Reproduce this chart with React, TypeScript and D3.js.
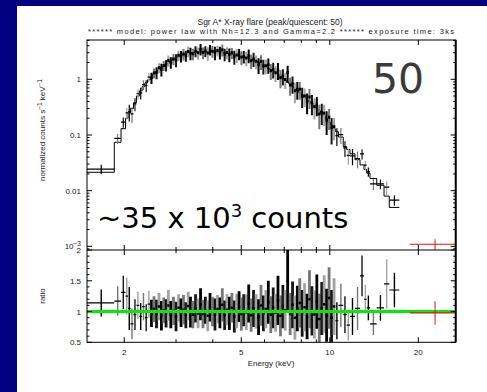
import React from "react";
import * as d3 from "d3";

// ---- data ----
const binEdges = [
  1.49, 1.85, 1.95, 2.02,
  2.06, 2.10, 2.15, 2.20, 2.25, 2.30, 2.35, 2.40, 2.45, 2.50,
  2.55, 2.60, 2.65, 2.70, 2.75, 2.80, 2.85, 2.91, 2.97, 3.03,
  3.09, 3.15, 3.21, 3.27, 3.33, 3.39, 3.46, 3.53, 3.60, 3.67,
  3.74, 3.81, 3.88, 3.95, 4.03, 4.11, 4.19, 4.27, 4.35, 4.43,
  4.51, 4.60, 4.69, 4.78, 4.87, 4.96, 5.05, 5.15, 5.25, 5.35,
  5.45, 5.56, 5.67, 5.78, 5.89, 6.00, 6.12, 6.24, 6.36, 6.48,
  6.60, 6.73, 6.86, 6.99, 7.12, 7.26, 7.40, 7.54, 7.68, 7.83,
  7.98, 8.13, 8.29, 8.45, 8.61, 8.78, 8.95, 9.12, 9.30, 9.48,
  9.66, 9.85, 10.04, 10.24, 10.44,
  10.70, 11.11, 11.41, 11.71, 12.18, 12.67, 13.07, 13.35, 13.70, 14.44, 15.29, 15.93, 17.24,
];

const modelCounts = [
  0.0214, 0.074, 0.13,
  0.20, 0.25, 0.30, 0.38, 0.50, 0.62, 0.74, 0.86, 0.98, 1.10,
  1.25, 1.38, 1.50, 1.62, 1.74, 1.86, 1.98, 2.13, 2.30, 2.42,
  2.54, 2.66, 2.76, 2.83, 2.90, 2.96, 3.02, 3.05, 3.08, 3.11,
  3.14, 3.16, 3.18, 3.19, 3.20, 3.19, 3.16, 3.12, 3.07, 3.01,
  2.94, 2.88, 2.82, 2.76, 2.70, 2.64, 2.59, 2.53, 2.45, 2.37,
  2.29, 2.21, 2.10, 2.00, 1.90, 1.79, 1.68, 1.58, 1.50, 1.42,
  1.34, 1.24, 1.15, 1.06, 0.97, 0.88, 0.82, 0.75, 0.69, 0.63,
  0.58, 0.52, 0.47, 0.43, 0.40, 0.37, 0.34, 0.30, 0.27, 0.245,
  0.22, 0.195, 0.170, 0.150, 0.130,
  0.115, 0.092, 0.062, 0.055, 0.046, 0.036, 0.029, 0.024, 0.0206, 0.0165, 0.0125, 0.0080, 0.0050,
];

const ratioValues = [
  1.14, 1.17, 1.31,
  1.25, 1.05, 0.80, 0.95, 1.10, 0.92, 1.08, 0.90, 1.12, 0.97,
  1.04, 0.96, 1.08, 0.93, 1.02, 0.97, 1.10, 0.95, 1.01, 0.92,
  1.06, 0.98, 1.03, 0.94, 1.09, 0.99, 0.95, 1.05, 0.97, 1.12,
  0.96, 1.02, 0.93, 1.07, 1.00, 0.95, 1.04, 0.98, 1.11, 0.94,
  1.03, 0.97, 1.06, 0.92, 1.01, 1.08, 0.96, 1.02, 0.99, 1.13,
  0.94, 1.05, 1.00, 0.91, 1.10, 0.97, 1.04, 1.15, 0.95, 1.06,
  0.98, 1.18, 0.93, 1.08, 1.02, 1.50, 0.96, 1.11, 0.90, 1.05,
  1.14, 0.97, 1.07, 0.92, 1.20, 1.01, 0.95, 1.16, 0.88, 1.05,
  1.12, 0.94, 1.22, 0.90, 1.08,
  0.85, 1.10, 0.95, 0.78, 0.92, 1.05, 1.58, 1.20, 1.06, 0.80, 1.06, 1.45, 1.35,
];

const ratioErrors = [
  0.22, 0.24, 0.27,
  0.30, 0.35, 0.25, 0.25, 0.22, 0.22, 0.22, 0.22, 0.22, 0.22,
  0.21, 0.23, 0.22, 0.24, 0.21, 0.23, 0.25, 0.22, 0.23, 0.24,
  0.22, 0.23, 0.24, 0.21, 0.23, 0.25, 0.22, 0.23, 0.24, 0.26,
  0.23, 0.22, 0.25, 0.23, 0.24, 0.26, 0.23, 0.25, 0.27, 0.24,
  0.25, 0.27, 0.24, 0.26, 0.28, 0.25, 0.27, 0.26, 0.29, 0.31,
  0.27, 0.30, 0.28, 0.29, 0.33, 0.29, 0.31, 0.35, 0.30, 0.33,
  0.31, 0.40, 0.33, 0.35, 0.33, 0.50, 0.34, 0.38, 0.36, 0.37,
  0.40, 0.38, 0.39, 0.37, 0.47, 0.40, 0.39, 0.44, 0.41, 0.43,
  0.47, 0.43, 0.50, 0.45, 0.46,
  0.30, 0.35, 0.30, 0.25, 0.30, 0.35, 0.33, 0.23, 0.20, 0.18, 0.21, 0.40, 0.28,
];

const redEdges = [18.7, 26.8];
const redCenter = [22.8];
const redCounts = [0.00109];
const redCountErr = [0.00025];
const redRatio = [0.977];
const redRatioErr = [0.19];

const xMajorTicks = [2, 5, 10, 20];
const xTickLabels = ["2", "5", "10", "20"];
const xMinorTicks = [3, 4, 6, 7, 8, 9];
const yUpperMajor = [0.001, 0.01, 0.1, 1];
const yUpperLabels = ["10", "0.01", "0.1", "1"];
const yLowerMajor = [0.5, 1, 1.5, 2];
const yLowerLabels = ["0.5", "1", "1.5", "2"];

const titleText = "Sgr A* X-ray flare (peak/quiescent: 50)";
const subtitleText =
  "****** model: power law with Nh=12.3 and Gamma=2.2 ****** exposure time: 3ks";

// ---- layout ----
const W = 487;
const H = 392;
const L = 87;
const R = 455.7;
const T = 40;
const MID = 250;
const B = 342.3;

const x = d3.scaleLog().domain([1.494, 26.8]).range([L, R]);
const yU = d3.scaleLog().domain([8.6e-4, 5.08]).range([MID, T]);
const yL = d3.scaleLinear().domain([0.5, 2]).range([B, MID]);

const barColors = ["#000000", "#777777", "#151515", "#a2a2a2"];
const axisFont = "'Liberation Sans', Arial, sans-serif";

export default function App() {
  const n = modelCounts.length;
  const bins = d3.range(n).map((i) => {
    const lo = binEdges[i];
    const hi = binEdges[i + 1];
    const c = (lo + hi) / 2;
    const m = modelCounts[i];
    const r = ratioValues[i];
    const e = ratioErrors[i];
    const dense = lo >= 2.45 && hi <= 10.5;
    return { lo, hi, c, m, r, e, i, dense };
  });

  let modelPath = "";
  bins.forEach((b, k) => {
    if (k === 0) modelPath += `M${x(b.lo)},${yU(b.m)}`;
    else modelPath += `V${yU(b.m)}`;
    modelPath += `H${x(b.hi)}`;
  });

  const upperMinor: number[] = [];
  [-4, -3, -2, -1, 0].forEach((p) => {
    for (let k = 2; k <= 9; k++) {
      const v = k * Math.pow(10, p);
      if (v > 8.6e-4 && v < 5.08) upperMinor.push(v);
    }
  });
  const lowerMinor = d3.range(6, 20).map((v) => v / 10).filter((v) => ![1, 1.5].includes(v));

  const tickStroke = "#000";

  return (
    <svg
      width={W}
      height={H}
      style={{ position: "absolute", left: 0, top: 0, display: "block" }}
    >
      <defs>
        <clipPath id="clipU">
          <rect x={L} y={T} width={R - L} height={MID - T} />
        </clipPath>
        <clipPath id="clipL">
          <rect x={L} y={MID} width={R - L} height={B - MID} />
        </clipPath>
      </defs>
      <rect x={0} y={0} width={W} height={H} fill="#000080" />
      <rect x={17} y={6} width={W - 17} height={H - 6} fill="#ffffff" />

      <text x={270} y={25} textAnchor="middle" fontFamily={axisFont} fontSize={8.5} fill="#222">
        {titleText}
      </text>
      <text
        x={88}
        y={34}
        fontFamily={axisFont}
        fontSize={7.5}
        fill="#222"
        textLength={366}
        lengthAdjust="spacing"
      >
        {subtitleText}
      </text>

      <g clipPath="url(#clipU)">
        <path d={modelPath} fill="none" stroke="#000" strokeWidth={1} />
        {bins.map((b) => {
          const lo = Math.max(b.m * (b.r - b.e), 1e-6);
          const hi = b.m * (b.r + b.e);
          return (
            <line
              key={"ue" + b.i}
              x1={x(b.c)}
              x2={x(b.c)}
              y1={yU(lo)}
              y2={yU(hi)}
              stroke={barColors[b.i % 4]}
              strokeWidth={b.dense ? 2 : 1.2}
            />
          );
        })}
        {bins.map((b) => (
          <line
            key={"uh" + b.i}
            x1={x(b.lo)}
            x2={x(b.hi)}
            y1={yU(b.m * b.r)}
            y2={yU(b.m * b.r)}
            stroke="#000"
            strokeWidth={b.dense ? 3 : 1.2}
          />
        ))}
        <line
          x1={x(redEdges[0])}
          x2={x(redEdges[1])}
          y1={yU(redCounts[0])}
          y2={yU(redCounts[0])}
          stroke="#e81010"
          strokeWidth={1.2}
        />
        <line
          x1={x(redCenter[0])}
          x2={x(redCenter[0])}
          y1={yU(redCounts[0] - redCountErr[0])}
          y2={yU(redCounts[0] + redCountErr[0])}
          stroke="#e81010"
          strokeWidth={1}
        />
      </g>

      <g clipPath="url(#clipL)">
        {bins.map((b) => (
          <line
            key={"le" + b.i}
            x1={x(b.c)}
            x2={x(b.c)}
            y1={yL(b.r - b.e)}
            y2={yL(b.r + b.e)}
            stroke={barColors[b.i % 4]}
            strokeWidth={b.dense ? 2.8 : 1.4}
          />
        ))}
        {bins.map((b) => (
          <line
            key={"lh" + b.i}
            x1={x(b.lo)}
            x2={x(b.hi)}
            y1={yL(b.r)}
            y2={yL(b.r)}
            stroke="#000"
            strokeWidth={b.dense ? 2.5 : 1.2}
          />
        ))}
        <line x1={L} x2={R} y1={yL(1)} y2={yL(1)} stroke="#00ee00" strokeWidth={3} />
        <line
          x1={x(redEdges[0])}
          x2={x(redEdges[1])}
          y1={yL(redRatio[0])}
          y2={yL(redRatio[0])}
          stroke="#e81010"
          strokeWidth={1.2}
        />
        <line
          x1={x(redCenter[0])}
          x2={x(redCenter[0])}
          y1={yL(redRatio[0] - redRatioErr[0])}
          y2={yL(redRatio[0] + redRatioErr[0])}
          stroke="#e81010"
          strokeWidth={1}
        />
      </g>

      <rect x={L} y={T} width={R - L} height={B - T} fill="none" stroke="#000" strokeWidth={1} />
      <line x1={L} x2={R} y1={MID} y2={MID} stroke="#000" strokeWidth={1.2} />
      <line x1={R} x2={R} y1={T} y2={B} stroke="#000" strokeWidth={2} />

      {[T, MID, B].map((yy, k) => (
        <g key={"xt" + k}>
          {xMajorTicks.concat(xMinorTicks).map((v, j) => {
            const len = xMajorTicks.includes(v) ? 5 : 3;
            const segs: [number, number][] = [];
            if (yy === T) segs.push([T, T + len]);
            if (yy === MID) {
              segs.push([MID, MID - len]);
              segs.push([MID, MID + len]);
            }
            if (yy === B) segs.push([B, B - len]);
            return segs.map((s, q) => (
              <line
                key={"xt" + k + "-" + j + "-" + q}
                x1={x(v)}
                x2={x(v)}
                y1={s[0]}
                y2={s[1]}
                stroke={tickStroke}
                strokeWidth={1}
              />
            ));
          })}
        </g>
      ))}

      {yUpperMajor.map((v, j) => (
        <g key={"yum" + j}>
          <line x1={L} x2={L + 5} y1={yU(v)} y2={yU(v)} stroke={tickStroke} strokeWidth={1} />
          <line x1={R} x2={R - 5} y1={yU(v)} y2={yU(v)} stroke={tickStroke} strokeWidth={1} />
        </g>
      ))}
      {upperMinor.map((v, j) => (
        <g key={"yun" + j}>
          <line x1={L} x2={L + 2.5} y1={yU(v)} y2={yU(v)} stroke={tickStroke} strokeWidth={1} />
          <line x1={R} x2={R - 2.5} y1={yU(v)} y2={yU(v)} stroke={tickStroke} strokeWidth={1} />
        </g>
      ))}
      {yLowerMajor.map((v, j) => (
        <g key={"ylm" + j}>
          <line x1={L} x2={L + 5} y1={yL(v)} y2={yL(v)} stroke={tickStroke} strokeWidth={1} />
          <line x1={R} x2={R - 5} y1={yL(v)} y2={yL(v)} stroke={tickStroke} strokeWidth={1} />
        </g>
      ))}
      {lowerMinor.map((v, j) => (
        <g key={"yln" + j}>
          <line x1={L} x2={L + 2.5} y1={yL(v)} y2={yL(v)} stroke={tickStroke} strokeWidth={1} />
          <line x1={R} x2={R - 2.5} y1={yL(v)} y2={yL(v)} stroke={tickStroke} strokeWidth={1} />
        </g>
      ))}

      <g fontFamily={axisFont} fontSize={8} fill="#222">
        {yUpperMajor.map((v, j) => (
          <text key={"yul" + j} x={81} y={yU(v) + 3} textAnchor="end">
            {yUpperLabels[j]}
            {j === 0 ? (
              <tspan dy={-3.5} fontSize={6.5}>
                −3
              </tspan>
            ) : null}
          </text>
        ))}
        {yLowerMajor.map((v, j) => (
          <text key={"yll" + j} x={81} y={yL(v) + 3} textAnchor="end">
            {yLowerLabels[j]}
          </text>
        ))}
        {xMajorTicks.map((v, j) => (
          <text key={"xl" + j} x={x(v)} y={355} textAnchor="middle">
            {xTickLabels[j]}
          </text>
        ))}
        <text x={271} y={366} textAnchor="middle">
          Energy (keV)
        </text>
        <text transform="translate(45,130) rotate(-90)" textAnchor="middle">
          normalized counts s
          <tspan dy={-3.5} fontSize={6.5}>
            −1
          </tspan>
          <tspan dy={3.5}> keV</tspan>
          <tspan dy={-3.5} fontSize={6.5}>
            −1
          </tspan>
        </text>
        <text transform="translate(45,296) rotate(-90)" textAnchor="middle">
          ratio
        </text>
      </g>

      <text x={372} y={93} fontFamily="'DejaVu Sans', sans-serif" fontSize={41} fill="#3a3a3a">
        50
      </text>
      <text x={97} y={228} fontFamily="'DejaVu Sans', sans-serif" fontSize={29} fill="#000">
        ~35 x 10
        <tspan dy={-11} fontSize={18}>
          3
        </tspan>
        <tspan dy={11}> counts</tspan>
      </text>
    </svg>
  );
}
